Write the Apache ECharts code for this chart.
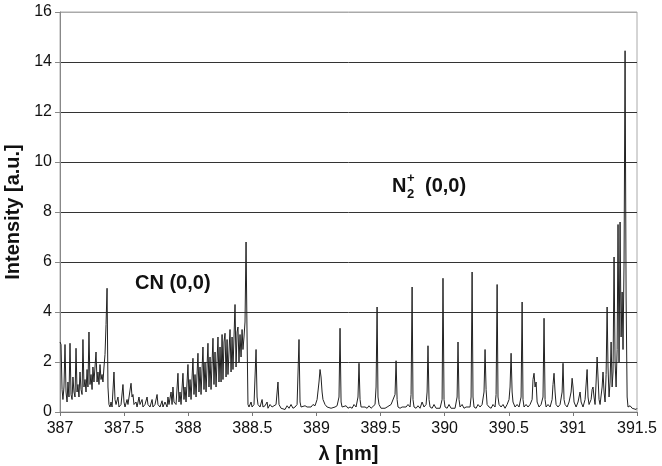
<!DOCTYPE html>
<html>
<head>
<meta charset="utf-8">
<script src="https://cdn.jsdelivr.net/npm/echarts@6/dist/echarts.min.js"></script>
<style>
  html, body { margin: 0; padding: 0; background: #fff; }
  #chart { width: 662px; height: 466px; }
</style>
</head>
<body>
<div id="chart"></div>
<script>
// wavelength (nm) and intensity (a.u.)
const wavelength = [
  387.000, 387.008, 387.016, 387.023, 387.031, 387.039, 387.047, 387.055, 387.062, 387.070,
  387.078, 387.086, 387.094, 387.101, 387.109, 387.117, 387.125, 387.133, 387.140, 387.148,
  387.156, 387.164, 387.172, 387.179, 387.187, 387.195, 387.203, 387.211, 387.218, 387.226,
  387.234, 387.242, 387.250, 387.257, 387.265, 387.281, 387.289, 387.296, 387.304, 387.312,
  387.320, 387.328, 387.335, 387.343, 387.351, 387.359, 387.367, 387.374, 387.382, 387.390,
  387.398, 387.406, 387.421, 387.429, 387.437, 387.452, 387.460, 387.476, 387.491, 387.499,
  387.507, 387.523, 387.530, 387.554, 387.562, 387.569, 387.577, 387.593, 387.601, 387.616,
  387.624, 387.640, 387.647, 387.663, 387.679, 387.686, 387.702, 387.718, 387.725, 387.741,
  387.757, 387.764, 387.780, 387.796, 387.803, 387.819, 387.835, 387.842, 387.850, 387.866,
  387.874, 387.881, 387.889, 387.905, 387.920, 387.928, 387.936, 387.944, 387.959, 387.967,
  387.975, 387.983, 387.998, 388.006, 388.014, 388.022, 388.037, 388.045, 388.053, 388.061,
  388.076, 388.084, 388.092, 388.100, 388.115, 388.123, 388.131, 388.139, 388.154, 388.162,
  388.170, 388.178, 388.193, 388.201, 388.209, 388.217, 388.232, 388.240, 388.248, 388.256,
  388.264, 388.271, 388.279, 388.287, 388.295, 388.303, 388.310, 388.326, 388.334, 388.342,
  388.349, 388.365, 388.373, 388.381, 388.388, 388.396, 388.404, 388.412, 388.420, 388.427,
  388.435, 388.443, 388.451, 388.459, 388.466, 388.474, 388.490, 388.498, 388.513, 388.529,
  388.537, 388.544, 388.560, 388.576, 388.583, 388.599, 388.615, 388.622, 388.638, 388.654,
  388.669, 388.685, 388.700, 388.708, 388.724, 388.739, 388.755, 388.771, 388.786, 388.802,
  388.817, 388.833, 388.849, 388.864, 388.872, 388.880, 388.895, 388.911, 388.927, 388.942,
  388.958, 388.973, 388.989, 389.005, 389.020, 389.028, 389.036, 389.044, 389.051, 389.067,
  389.083, 389.098, 389.114, 389.129, 389.145, 389.161, 389.176, 389.184, 389.192, 389.200,
  389.215, 389.231, 389.246, 389.262, 389.278, 389.293, 389.309, 389.324, 389.332, 389.340,
  389.348, 389.363, 389.379, 389.395, 389.410, 389.426, 389.441, 389.457, 389.465, 389.473,
  389.480, 389.488, 389.504, 389.519, 389.535, 389.551, 389.566, 389.582, 389.597, 389.613,
  389.621, 389.629, 389.636, 389.652, 389.668, 389.683, 389.699, 389.714, 389.730, 389.738,
  389.746, 389.753, 389.761, 389.777, 389.792, 389.808, 389.824, 389.839, 389.855, 389.863,
  389.870, 389.878, 389.886, 389.902, 389.917, 389.933, 389.948, 389.964, 389.980, 389.987,
  389.995, 390.003, 390.019, 390.034, 390.050, 390.065, 390.081, 390.097, 390.104, 390.112,
  390.120, 390.136, 390.151, 390.167, 390.182, 390.198, 390.206, 390.214, 390.221, 390.229,
  390.245, 390.260, 390.276, 390.292, 390.307, 390.315, 390.323, 390.331, 390.346, 390.362,
  390.377, 390.393, 390.401, 390.409, 390.416, 390.424, 390.440, 390.455, 390.471, 390.487,
  390.502, 390.510, 390.518, 390.526, 390.533, 390.549, 390.565, 390.580, 390.596, 390.604,
  390.611, 390.619, 390.635, 390.650, 390.666, 390.682, 390.689, 390.697, 390.705, 390.713,
  390.721, 390.736, 390.752, 390.767, 390.775, 390.783, 390.791, 390.806, 390.822, 390.838,
  390.845, 390.853, 390.861, 390.869, 390.884, 390.900, 390.916, 390.923, 390.931, 390.939,
  390.955, 390.970, 390.986, 390.994, 391.001, 391.009, 391.025, 391.040, 391.048, 391.056,
  391.064, 391.079, 391.095, 391.111, 391.118, 391.126, 391.142, 391.150, 391.157, 391.165,
  391.173, 391.181, 391.189, 391.196, 391.204, 391.212, 391.228, 391.235, 391.243, 391.251,
  391.259, 391.267, 391.274, 391.282, 391.290, 391.298, 391.306, 391.313, 391.321, 391.329,
  391.337, 391.345, 391.352, 391.360, 391.368, 391.376, 391.384, 391.391, 391.399, 391.407,
  391.415, 391.423, 391.430, 391.446, 391.462, 391.477, 391.493, 391.500
];

const intensity = [
  2.8, 2.7, 0.9, 0.5, 1.0, 2.7, 0.8, 0.4, 1.2, 0.6,
  2.75, 0.7, 0.5, 1.4, 0.8, 0.6, 2.55, 0.8, 1.1, 0.6,
  1.6, 0.9, 0.7, 2.9, 1.0, 1.3, 0.8, 1.7, 1.0, 3.2,
  1.1, 1.5, 0.9, 1.8, 1.2, 2.4, 1.2, 1.6, 1.1, 1.9,
  1.3, 1.5, 1.2, 1.8, 2.3, 3.5, 4.95, 1.0, 0.3, 0.2,
  0.4, 0.2, 1.6, 0.5, 0.3, 0.6, 0.2, 0.3, 1.1, 0.4,
  0.2, 0.5, 0.3, 1.15, 0.6, 0.7, 0.3, 0.4, 0.2, 0.6,
  0.3, 0.5, 0.2, 0.3, 0.6, 0.3, 0.2, 0.5, 0.2, 0.3,
  0.7, 0.3, 0.2, 0.45, 0.2, 0.4, 0.2, 0.6, 0.3, 0.8,
  0.3, 1.0, 0.4, 0.3, 1.55, 0.4, 0.8, 0.3, 1.55, 0.5,
  1.0, 0.4, 1.9, 0.6, 1.3, 0.5, 2.15, 0.7, 1.5, 0.6,
  2.35, 0.8, 1.8, 0.7, 2.6, 0.9, 2.0, 0.8, 2.75, 1.0,
  2.2, 0.9, 2.95, 1.1, 2.4, 1.0, 3.0, 1.2, 2.6, 1.2,
  3.1, 1.3, 2.8, 3.15, 1.4, 2.9, 1.5, 3.3, 1.6, 3.0,
  1.7, 4.3, 1.8, 3.2, 3.4, 2.0, 3.1, 2.2, 3.3, 2.5,
  3.0, 3.6, 6.8, 3.0, 0.3, 0.2, 0.4, 0.2, 0.3, 2.5,
  0.6, 0.3, 0.2, 0.5, 0.2, 0.25, 0.4, 0.15, 0.3, 0.2,
  0.15, 0.3, 1.2, 0.3, 0.15, 0.2, 0.1, 0.25, 0.15, 0.3,
  0.15, 0.2, 0.3, 2.9, 0.4, 0.2, 0.15, 0.25, 0.2, 0.15,
  0.2, 0.3, 0.25, 0.5, 1.2, 1.7, 1.4, 0.8, 0.5, 0.3,
  0.2, 0.25, 0.15, 0.2, 0.2, 0.25, 0.6, 3.35, 0.4, 0.2,
  0.15, 0.25, 0.15, 0.2, 0.15, 0.3, 0.2, 0.6, 1.95, 0.5,
  0.2, 0.15, 0.2, 0.15, 0.25, 0.15, 0.2, 0.3, 1.0, 4.2,
  0.6, 0.3, 0.15, 0.2, 0.15, 0.2, 0.15, 0.3, 0.25, 0.7,
  2.05, 0.5, 0.2, 0.15, 0.2, 0.15, 0.2, 0.3, 0.2, 0.7,
  5.0, 0.5, 0.2, 0.15, 0.25, 0.15, 0.4, 0.2, 0.3, 0.8,
  2.65, 0.5, 0.2, 0.15, 0.3, 0.15, 0.2, 0.15, 0.5, 5.35,
  0.5, 0.2, 0.15, 0.3, 0.15, 0.2, 0.15, 0.6, 2.8, 0.5,
  0.2, 0.3, 0.15, 0.2, 0.15, 0.2, 0.6, 5.6, 0.6, 0.2,
  0.15, 0.3, 0.2, 0.3, 0.8, 2.5, 0.9, 0.3, 0.2, 0.15,
  0.3, 0.2, 0.7, 5.1, 0.6, 0.3, 0.2, 0.3, 0.15, 0.3,
  0.5, 1.0, 2.35, 0.8, 0.4, 0.2, 0.3, 0.2, 0.6, 4.4,
  0.5, 0.2, 0.3, 0.2, 0.3, 0.5, 1.3, 1.55, 1.0, 1.2,
  0.4, 0.2, 0.3, 0.6, 3.75, 0.5, 0.2, 0.3, 0.2, 0.5,
  1.1, 1.55, 0.8, 0.3, 0.2, 0.3, 0.8, 1.95, 0.5, 0.3,
  0.2, 0.4, 0.8, 1.35, 1.0, 0.4, 0.2, 0.4, 0.6, 0.8,
  0.4, 0.2, 0.5, 1.7, 0.6, 0.3, 0.5, 0.9, 1.0, 0.6,
  0.3, 1.2, 2.2, 2.25, 0.5, 0.3, 1.0, 1.6, 0.8, 0.4,
  1.5, 4.2, 1.8, 0.6, 1.2, 2.8, 1.0, 1.6, 6.2, 2.0,
  1.0, 2.5, 7.5, 2.0, 7.6, 3.0, 4.8, 2.5, 6.0, 14.45,
  4.6, 0.6, 0.2, 0.25, 0.15, 0.2, 0.1, 0.15
];

const xTicks = { min: 387, max: 391.5, step: 0.5 };
const yTicks = { min: 0, max: 16, step: 2 };

const chart = echarts.init(document.getElementById('chart'));

const FONT = 'Liberation Sans, Arial, sans-serif';
const labelFont = { color: '#111', fontSize: 16, fontFamily: FONT };
const nameFont = { color: '#111', fontSize: 20, fontWeight: 'bold', fontFamily: FONT };
const noteFont = 'bold 20px "Liberation Sans", Arial, sans-serif';
const smallFont = 'bold 13px "Liberation Sans", Arial, sans-serif';

// lighter outer lines, dark inner gridlines
const splitColors = ['#999', '#333', '#333', '#333', '#333', '#333', '#333', '#333', '#aaa'];

chart.setOption({
  backgroundColor: '#fff',
  animation: false,
  grid: {
    left: 60,
    right: 25,
    top: 12,
    bottom: 54,
    outerBoundsMode: 'none',
    show: true,
    borderColor: '#aaa',
    borderWidth: 1
  },
  xAxis: {
    type: 'value',
    min: xTicks.min,
    max: xTicks.max,
    interval: xTicks.step,
    name: 'λ [nm]',
    nameLocation: 'middle',
    nameGap: 32,
    nameTextStyle: nameFont,
    axisLine: { lineStyle: { color: '#777', width: 1 } },
    axisTick: { show: true, length: 4, lineStyle: { color: '#777' } },
    axisLabel: Object.assign({ margin: 9 }, labelFont),
    splitLine: { show: false }
  },
  yAxis: {
    type: 'value',
    min: yTicks.min,
    max: yTicks.max,
    interval: yTicks.step,
    name: 'Intensity [a.u.]',
    nameLocation: 'middle',
    nameGap: 27,
    nameTextStyle: nameFont,
    axisLine: { show: true, lineStyle: { color: '#888', width: 1 } },
    axisTick: { show: true, length: 5, lineStyle: { color: '#888' } },
    axisLabel: Object.assign({ margin: 8 }, labelFont),
    splitLine: { show: true, lineStyle: { color: splitColors, width: 1 } }
  },
  graphic: [
    { type: 'text', left: 135, top: 273, style: { text: 'CN (0,0)', fill: '#111', font: noteFont } },
    // N2+ label built from pieces for the sub/superscript
    { type: 'text', left: 392, top: 176, style: { text: 'N', fill: '#111', font: noteFont } },
    { type: 'text', left: 407, top: 188, style: { text: '2', fill: '#111', font: smallFont } },
    { type: 'text', left: 407, top: 172, style: { text: '+', fill: '#111', font: smallFont } },
    { type: 'text', left: 425, top: 176, style: { text: '(0,0)', fill: '#111', font: noteFont } }
  ],
  series: [
    {
      type: 'line',
      data: wavelength.map((w, i) => [w, intensity[i]]),
      showSymbol: false,
      symbol: 'none',
      smooth: false,
      lineStyle: { color: '#222', width: 1 },
      z: 3
    }
  ]
});
</script>
</body>
</html>
